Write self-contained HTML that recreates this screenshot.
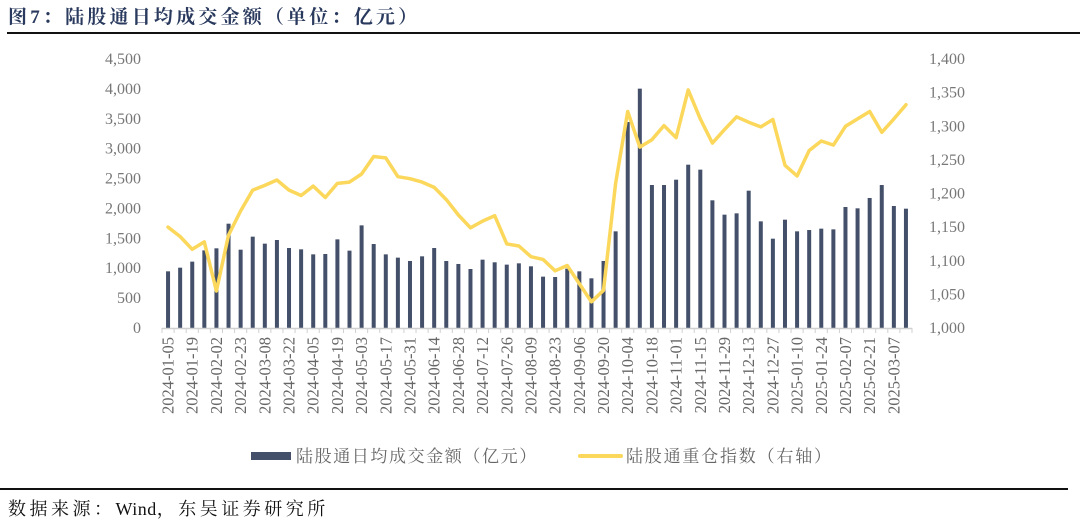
<!DOCTYPE html>
<html><head><meta charset="utf-8">
<style>
html,body{margin:0;padding:0;background:#fff;}
body{width:1080px;height:520px;overflow:hidden;position:relative;font-family:"Liberation Serif","Noto Serif CJK SC",serif;}
#title{position:absolute;left:8px;top:2px;font-size:19px;font-weight:bold;color:#2a3a5e;font-family:"Liberation Serif","Noto Serif CJK SC",serif;letter-spacing:3.2px;}
#rule-top{position:absolute;left:7px;top:32px;width:1073px;height:2px;background:#111;}
#rule-bottom{position:absolute;left:0;top:488px;width:1068px;height:2px;background:#111;}
#source{position:absolute;left:8px;top:495px;font-size:18px;color:#111;letter-spacing:3.5px;}
#source span{letter-spacing:0.5px;}
svg{position:absolute;left:0;top:0;}
</style></head>
<body>
<div id="title">图7：陆股通日均成交金额（单位：亿元）</div>
<div id="rule-top"></div>
<svg id="chart" width="1080" height="520"></svg>
<div id="rule-bottom"></div>
<div id="source">数据来源：<span>Wind</span>，东吴证券研究所</div>
<script>
const categories = ["2024-01-05","2024-01-12","2024-01-19","2024-01-26","2024-02-02","2024-02-09","2024-02-23","2024-03-01","2024-03-08","2024-03-15","2024-03-22","2024-03-29","2024-04-05","2024-04-12","2024-04-19","2024-04-26","2024-05-03","2024-05-10","2024-05-17","2024-05-24","2024-05-31","2024-06-07","2024-06-14","2024-06-21","2024-06-28","2024-07-05","2024-07-12","2024-07-19","2024-07-26","2024-08-02","2024-08-09","2024-08-16","2024-08-23","2024-08-30","2024-09-06","2024-09-13","2024-09-20","2024-09-27","2024-10-04","2024-10-11","2024-10-18","2024-10-25","2024-11-01","2024-11-08","2024-11-15","2024-11-22","2024-11-29","2024-12-06","2024-12-13","2024-12-20","2024-12-27","2025-01-03","2025-01-10","2025-01-17","2025-01-24","2025-01-31","2025-02-07","2025-02-14","2025-02-21","2025-02-28","2025-03-07","2025-03-14"];
const turnover = [948,1009,1110,1299,1333,1745,1310,1528,1411,1472,1338,1316,1232,1238,1483,1294,1717,1405,1232,1177,1121,1199,1338,1121,1071,987,1143,1099,1060,1082,1032,859,853,993,948,831,1121,1617,3446,4004,2392,2392,2481,2732,2649,2136,1896,1918,2297,1784,1494,1812,1617,1639,1662,1650,2024,2002,2175,2392,2041,1996];
const indexValues = [1150,1136,1117,1128,1055,1138,1174,1205,1212,1220,1205,1197,1211,1194,1215,1217,1229,1255,1253,1225,1222,1217,1209,1191,1168,1149,1159,1167,1125,1122,1106,1102,1085,1093,1066,1039,1056,1215,1322,1269,1280,1301,1283,1354,1311,1275,1295,1314,1306,1299,1310,1242,1226,1264,1278,1272,1300,1311,1322,1291,1311,1332];
const leftTicks = [0,500,1000,1500,2000,2500,3000,3500,4000,4500];
const rightTicks = [1000,1050,1100,1150,1200,1250,1300,1350,1400];
const legendLabels = ["陆股通日均成交金额（亿元）","陆股通重仓指数（右轴）"];

const NS="http://www.w3.org/2000/svg";
const svg=document.getElementById('chart');
const X0=162, X1=912, Y0=328, YT=59;
const slot=(X1-X0)/categories.length;
const xC=i=>X0+slot*(i+0.5);
const yL=v=>Y0-(v-0)/(4500-0)*(Y0-YT);
const yR=v=>Y0-(v-1000)/(1400-1000)*(Y0-YT);
const fmt=v=>v.toLocaleString('en-US');
function mk(tag,attrs,parent){const e=document.createElementNS(NS,tag);for(const k in attrs)e.setAttribute(k,attrs[k]);(parent||svg).appendChild(e);return e;}

leftTicks.forEach(v=>{
  const t=mk('text',{x:141,y:yL(v)+5,'text-anchor':'end','font-size':16,fill:'#777','font-family':'Liberation Serif, serif'});
  t.textContent=fmt(v);
  
  
});
rightTicks.forEach(v=>{
  const t=mk('text',{x:929,y:yR(v)+5,'text-anchor':'start','font-size':16,fill:'#777','font-family':'Liberation Serif, serif'});
  t.textContent=fmt(v);
  
  
});
turnover.forEach((v,i)=>{
  const y=yL(v);
  const r=mk('rect',{x:xC(i)-2,y:y,width:4,height:Y0-y,fill:'#44506a'});
  
  
});
const ax=mk('line',{x1:X0,y1:Y0+0.5,x2:X1,y2:Y0+0.5,stroke:'#d0d0d0','stroke-width':1.5});


for(let i=0;i<=categories.length;i++){
  const tk=mk('line',{x1:X0+slot*i,y1:Y0,x2:X0+slot*i,y2:Y0+5,stroke:'#d0d0d0','stroke-width':1});
  
  
}
const pts=indexValues.map((v,i)=>xC(i).toFixed(1)+','+yR(v).toFixed(1)).join(' ');
const pl=mk('polyline',{points:pts,fill:'none',stroke:'#fbd85b','stroke-width':3.5,'stroke-linejoin':'round','stroke-linecap':'round'});


categories.forEach((c,i)=>{
  if(i%2!==0)return;
  const x=xC(i), y=337;
  const t=mk('text',{x:x,y:y,transform:`rotate(-90 ${x} ${y})`,'text-anchor':'end','dominant-baseline':'central','font-size':16.5,fill:'#666','font-family':'Liberation Serif, serif'});
  t.textContent=c;
  
  
});
const lb=mk('rect',{x:251,y:452,width:40,height:8,fill:'#44506a'});


const lt1=mk('text',{x:296,y:462,'font-size':17,fill:'#666','letter-spacing':1.6,'font-family':'Liberation Serif, Noto Serif CJK SC, serif'});
lt1.textContent=legendLabels[0];


const ll=mk('line',{x1:580,y1:456,x2:621,y2:456,stroke:'#fbd85b','stroke-width':4,'stroke-linecap':'round'});


const lt2=mk('text',{x:626,y:462,'font-size':17,fill:'#666','letter-spacing':1.8,'font-family':'Liberation Serif, Noto Serif CJK SC, serif'});
lt2.textContent=legendLabels[1];


</script>
</body></html>
